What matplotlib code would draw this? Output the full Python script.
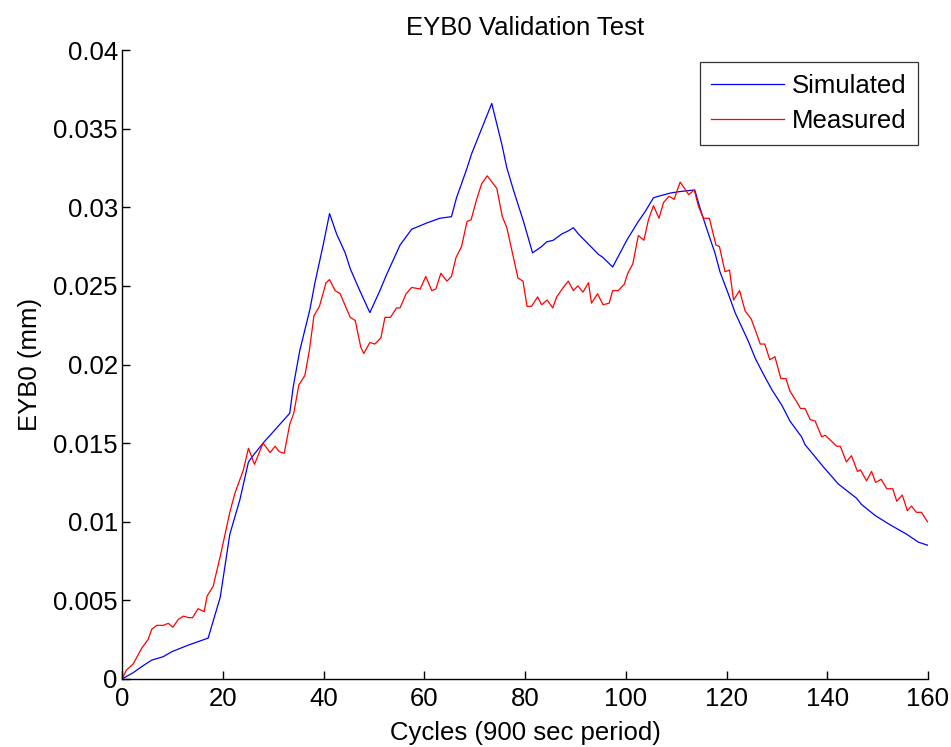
import matplotlib
matplotlib.use("Agg")
import matplotlib.pyplot as plt

plt.rcParams['font.family'] = ['Liberation Sans', 'DejaVu Sans']

# Simulated EYB0 response (cycle, mm)
sim_cycles = [0, 2.2, 4.2, 5.9, 8.2, 9.9, 13.2, 17.1, 19.5, 21.4, 23.4, 25.1, 26.1,
              28.0, 29.4, 33.3, 34.0, 35.3, 37.3, 38.3, 40.0, 41.2, 42.6, 44.3, 45.3,
              47.2, 49.2, 51.2, 52.5, 55.2, 57.5, 60.5, 63.1, 65.4, 66.4, 68.4, 69.4,
              73.4, 75.4, 76.4, 77.7, 79.7, 81.5, 83.3, 84.3, 85.6, 87.3, 88.6, 89.6,
              90.6, 94.6, 95.5, 97.4, 100.2, 102.5, 103.8, 105.5, 106.5, 108.8, 110.8,
              113.7, 114.7, 116.1, 117.7, 118.7, 120.7, 121.7, 124.3, 125.7, 127.3,
              129.0, 131.0, 132.6, 134.9, 135.6, 139.2, 142.2, 145.8, 146.8, 149.5,
              152.5, 155.8, 158.1, 160.0]
sim_eyb0 = [0, 0.0004, 0.00085, 0.0012, 0.00142, 0.00174, 0.00216, 0.0026, 0.0052,
            0.0092, 0.0114, 0.0138, 0.01424, 0.0150, 0.0155, 0.0169, 0.0186, 0.0209,
            0.0235, 0.0252, 0.0277, 0.0296, 0.0283, 0.0271, 0.0261, 0.0247, 0.0233,
            0.0247, 0.0257, 0.0276, 0.0286, 0.0290, 0.0293, 0.0294, 0.0306, 0.0324,
            0.0334, 0.0366, 0.0340, 0.0325, 0.0311, 0.0291, 0.0271, 0.0275, 0.0278,
            0.0279, 0.0283, 0.0285, 0.0287, 0.0283, 0.0270, 0.0268, 0.0262, 0.0279,
            0.0291, 0.0297, 0.0306, 0.0307, 0.0309, 0.0310, 0.0311, 0.0300, 0.0286,
            0.0271, 0.0259, 0.0242, 0.0233, 0.0215, 0.0204, 0.0194, 0.0184, 0.0174,
            0.0164, 0.0154, 0.0149, 0.0135, 0.0124, 0.0115, 0.0111, 0.0104, 0.0098,
            0.0092, 0.0087, 0.0085]

# Measured EYB0 response (cycle, mm)
meas_cycles = [0, 0.9, 2.2, 3.9, 5.2, 5.9, 6.9, 8.2, 9.2, 10.1, 11.2, 12.2, 13.2, 14.0,
               15.1, 16.3, 16.9, 18.1, 19.5, 21.4, 22.4, 24.1, 25.1, 26.3, 28.0, 29.4,
               30.4, 31.2, 32.2, 33.3, 34.1, 35.1, 36.3, 37.2, 38.1, 39.2, 40.5, 41.2,
               42.3, 43.3, 45.3, 46.3, 47.4, 48.0, 49.2, 50.2, 51.4, 52.2, 53.3, 54.5,
               55.2, 56.4, 57.5, 59.2, 60.3, 61.5, 62.3, 63.3, 64.5, 65.4, 66.3, 67.4,
               68.5, 69.3, 70.4, 71.4, 72.5, 74.4, 75.5, 76.4, 78.6, 79.6, 80.4, 81.3,
               82.5, 83.3, 84.4, 85.5, 86.3, 87.6, 88.6, 89.6, 90.5, 91.5, 92.6, 93.2,
               94.4, 95.5, 96.7, 97.4, 98.5, 99.7, 100.4, 101.4, 102.5, 103.6, 104.5,
               105.5, 106.6, 107.5, 108.6, 109.6, 110.8, 112.5, 113.6, 114.4, 115.4,
               116.6, 117.9, 118.6, 119.7, 120.6, 121.4, 122.6, 123.7, 124.9, 125.7,
               126.7, 127.6, 128.6, 129.6, 130.8, 131.8, 132.6, 133.8, 134.7, 135.6,
               136.6, 137.6, 138.9, 139.6, 141.9, 142.6, 143.8, 144.8, 146.0, 146.6,
               147.8, 148.8, 149.6, 150.7, 151.8, 153.0, 153.8, 154.9, 155.9, 156.7,
               157.7, 158.7, 159.9]
meas_eyb0 = [0, 0.00057, 0.00095, 0.00195, 0.00252, 0.00316, 0.00341, 0.00341, 0.00354,
             0.00329, 0.0038, 0.0040, 0.0039, 0.0039, 0.00447, 0.00428, 0.00528, 0.0059,
             0.0078, 0.0106, 0.0118, 0.0133, 0.01467, 0.01365, 0.0150, 0.0144, 0.0148,
             0.01446, 0.01435, 0.0162, 0.0169, 0.0187, 0.0193, 0.0209, 0.0231, 0.0237,
             0.0252, 0.0254, 0.0247, 0.0245, 0.0230, 0.0228, 0.0211, 0.0207, 0.0214,
             0.0213, 0.0217, 0.0230, 0.0230, 0.0236, 0.0236, 0.0245, 0.0249, 0.0248,
             0.0256, 0.0247, 0.0248, 0.0258, 0.0253, 0.0256, 0.0268, 0.0275, 0.0291,
             0.0292, 0.0305, 0.0315, 0.0320, 0.0312, 0.0294, 0.0287, 0.0255, 0.0253,
             0.0237, 0.0237, 0.0243, 0.0238, 0.0241, 0.0236, 0.0243, 0.0249, 0.0253,
             0.0247, 0.0250, 0.0246, 0.0252, 0.0239, 0.0245, 0.0238, 0.0239, 0.0247,
             0.0247, 0.0251, 0.0258, 0.0264, 0.0282, 0.0279, 0.0292, 0.0301, 0.0293,
             0.0303, 0.0307, 0.0305, 0.0316, 0.0308, 0.0311, 0.0301, 0.0293, 0.0293,
             0.0276, 0.0275, 0.0259, 0.0260, 0.0241, 0.0247, 0.0234, 0.0229, 0.0222,
             0.0213, 0.0213, 0.0203, 0.0205, 0.0191, 0.0191, 0.0183, 0.0177, 0.0172,
             0.0172, 0.0165, 0.0164, 0.0154, 0.0155, 0.0148, 0.0148, 0.0138, 0.0142,
             0.0132, 0.0133, 0.0126, 0.0132, 0.0125, 0.0127, 0.0121, 0.0121, 0.0113,
             0.0117, 0.0107, 0.0110, 0.0106, 0.0106, 0.0100]

x_ticks = [0, 20, 40, 60, 80, 100, 120, 140, 160]
y_ticks = [0, 0.005, 0.01, 0.015, 0.02, 0.025, 0.03, 0.035, 0.04]
y_tick_labels = ['0', '0.005', '0.01', '0.015', '0.02', '0.025', '0.03', '0.035', '0.04']

FS = 18.5

fig = plt.figure(figsize=(9.51, 7.47), dpi=100)
ax = fig.add_axes([122 / 951, 1 - 679 / 747, (928 - 122) / 951, (679 - 50) / 747])

ax.plot(sim_cycles, sim_eyb0, color='#0000ff', lw=0.9, label='Simulated')
ax.plot(meas_cycles, meas_eyb0, color='#ff0000', lw=0.9, label='Measured')

ax.set_xlim(0, 160)
ax.set_ylim(0, 0.04)
ax.set_xticks(x_ticks)
ax.set_xticklabels([str(t) for t in x_ticks])
ax.set_yticks(y_ticks)
ax.set_yticklabels(y_tick_labels)
ax.tick_params(direction='in', length=6, width=1.0, labelsize=FS, colors='black')
ax.tick_params(axis='y', pad=3)
ax.tick_params(axis='x', pad=6)

for side in ('top', 'right'):
    ax.spines[side].set_visible(False)
for side in ('left', 'bottom'):
    ax.spines[side].set_linewidth(1.0)

ax.set_title('EYB0 Validation Test', fontsize=FS, pad=11)
ax.set_xlabel('Cycles (900 sec period)', fontsize=FS, labelpad=7)
ax.set_ylabel('EYB0 (mm)', fontsize=FS, labelpad=8)

leg = ax.legend(loc='upper right', bbox_to_anchor=(0.988, 0.981), borderaxespad=0,
                fontsize=FS, frameon=True, fancybox=False, handlelength=2.85,
                handletextpad=0.3, borderpad=0.45, labelspacing=0.45)
leg.get_frame().set_edgecolor('black')
leg.get_frame().set_linewidth(0.9)

fig.savefig('out.png', dpi=100)
